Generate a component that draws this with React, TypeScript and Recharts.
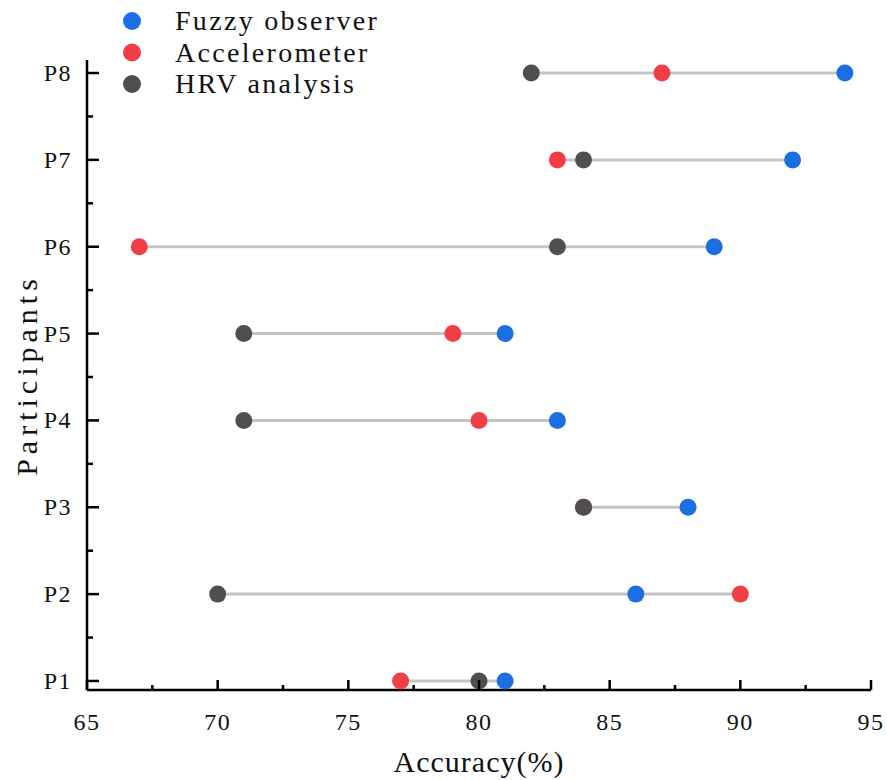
import React from 'react';
import { ScatterChart, Scatter, XAxis, YAxis, Label } from 'recharts';

const participants = ['P1', 'P2', 'P3', 'P4', 'P5', 'P6', 'P7', 'P8'];
const fuzzyObserver = [81, 86, 88, 83, 81, 89, 92, 94];
const accelerometer = [77, 90, 84, 80, 79, 67, 83, 87];
const hrvAnalysis = [80, 70, 84, 71, 71, 83, 84, 82];

const xMajorTicks = [65, 70, 75, 80, 85, 90, 95];
const xMinorTicks = [67.5, 72.5, 77.5, 82.5, 87.5, 92.5];
const yMinorTicks = [1.5, 2.5, 3.5, 4.5, 5.5, 6.5, 7.5];

const FONT = "'Liberation Serif', 'DejaVu Serif', serif";

const series = [
  { name: 'Fuzzy observer', values: fuzzyObserver, color: '#1b6fe2' },
  { name: 'Accelerometer', values: accelerometer, color: '#f03e45' },
  { name: 'HRV analysis', values: hrvAnalysis, color: '#4f4f4f' },
];

const yMajorTicks = participants.map((_, i) => i + 1);
const xTicks = [...xMajorTicks, ...xMinorTicks].sort((a, b) => a - b);
const yTicks = [...yMajorTicks, ...yMinorTicks].sort((a, b) => a - b);

const segments = participants.map((p, i) => {
  const vals = series.map((s) => s.values[i]);
  return {
    name: p,
    data: [
      { x: Math.min(...vals), y: i + 1 },
      { x: Math.max(...vals), y: i + 1 },
    ],
  };
});

const XTick = (props: any) => {
  const { x, y, payload } = props;
  const major = xMajorTicks.includes(payload.value);
  return (
    <g>
      <line x1={x} x2={x} y1={y} y2={y - (major ? 10 : 5)} stroke="#000" strokeWidth={2.5} />
      {major && (
        <text x={x} y={y + 40} textAnchor="middle" fontFamily={FONT} fontSize={24} letterSpacing={1.5} fill="#111">
          {payload.value}
        </text>
      )}
    </g>
  );
};

const YTick = (props: any) => {
  const { x, y, payload } = props;
  const major = Number.isInteger(payload.value);
  return (
    <g>
      <line x1={x} x2={x + (major ? 12 : 6)} y1={y} y2={y} stroke="#000" strokeWidth={2.5} />
      {major && (
        <text x={x - 15} y={y + 8} textAnchor="end" fontFamily={FONT} fontSize={24} letterSpacing={1.5} fill="#111">
          {participants[payload.value - 1]}
        </text>
      )}
    </g>
  );
};

const Dot = (color: string) => (props: any) => (
  <circle cx={props.cx} cy={props.cy} r={8.5} fill={color} />
);

export default function App() {
  return (
    <div style={{ position: 'absolute', left: 0, top: 0, width: 887, height: 780, background: '#fff' }}>
      <ScatterChart width={887} height={780} margin={{ top: 60, right: 16, bottom: 6, left: 7 }}>
        <XAxis
          type="number"
          dataKey="x"
          domain={[65, 95]}
          ticks={xTicks}
          interval={0}
          allowDataOverflow
          height={84}
          tickSize={0}
          tickMargin={0}
          tickLine={false}
          axisLine={{ stroke: '#000', strokeWidth: 2.5 }}
          tick={<XTick />}
        >
          <Label
            content={(p: any) => (
              <text
                x={p.viewBox.x + p.viewBox.width / 2}
                y={772}
                textAnchor="middle"
                fontFamily={FONT}
                fontSize={30}
                letterSpacing={1}
                fill="#111"
              >
                Accuracy(%)
              </text>
            )}
          />
        </XAxis>
        <YAxis
          type="number"
          dataKey="y"
          domain={[0.896, 8.15]}
          ticks={yTicks}
          interval={0}
          allowDataOverflow
          width={80}
          tickSize={0}
          tickMargin={0}
          tickLine={false}
          axisLine={{ stroke: '#000', strokeWidth: 2.5 }}
          tick={<YTick />}
        >
          <Label
            content={(p: any) => {
              const cy = p.viewBox.y + p.viewBox.height / 2;
              return (
                <text
                  x={37}
                  y={cy}
                  transform={`rotate(-90, 37, ${cy})`}
                  textAnchor="middle"
                  fontFamily={FONT}
                  fontSize={30}
                  letterSpacing={5}
                  fill="#111"
                >
                  Participants
                </text>
              );
            }}
          />
        </YAxis>
        {segments.map((s) => (
          <Scatter
            key={s.name}
            data={s.data}
            line={{ stroke: '#c4c4c4', strokeWidth: 3 }}
            shape={() => <g />}
            legendType="none"
            isAnimationActive={false}
          />
        ))}
        {series.map((s) => (
          <Scatter
            key={s.name}
            name={s.name}
            data={s.values.map((v, i) => ({ x: v, y: i + 1 }))}
            fill={s.color}
            shape={Dot(s.color)}
            isAnimationActive={false}
          />
        ))}
      </ScatterChart>
      <svg style={{ position: 'absolute', left: 0, top: 0 }} width={400} height={110}>
        {series.map((s, i) => (
          <g key={s.name}>
            <circle cx={132} cy={21 + i * 31.5} r={9} fill={s.color} />
            <text x={175} y={30 + i * 31.5} fontFamily={FONT} fontSize={28} letterSpacing={2.3} fill="#111">
              {s.name}
            </text>
          </g>
        ))}
      </svg>
    </div>
  );
}
